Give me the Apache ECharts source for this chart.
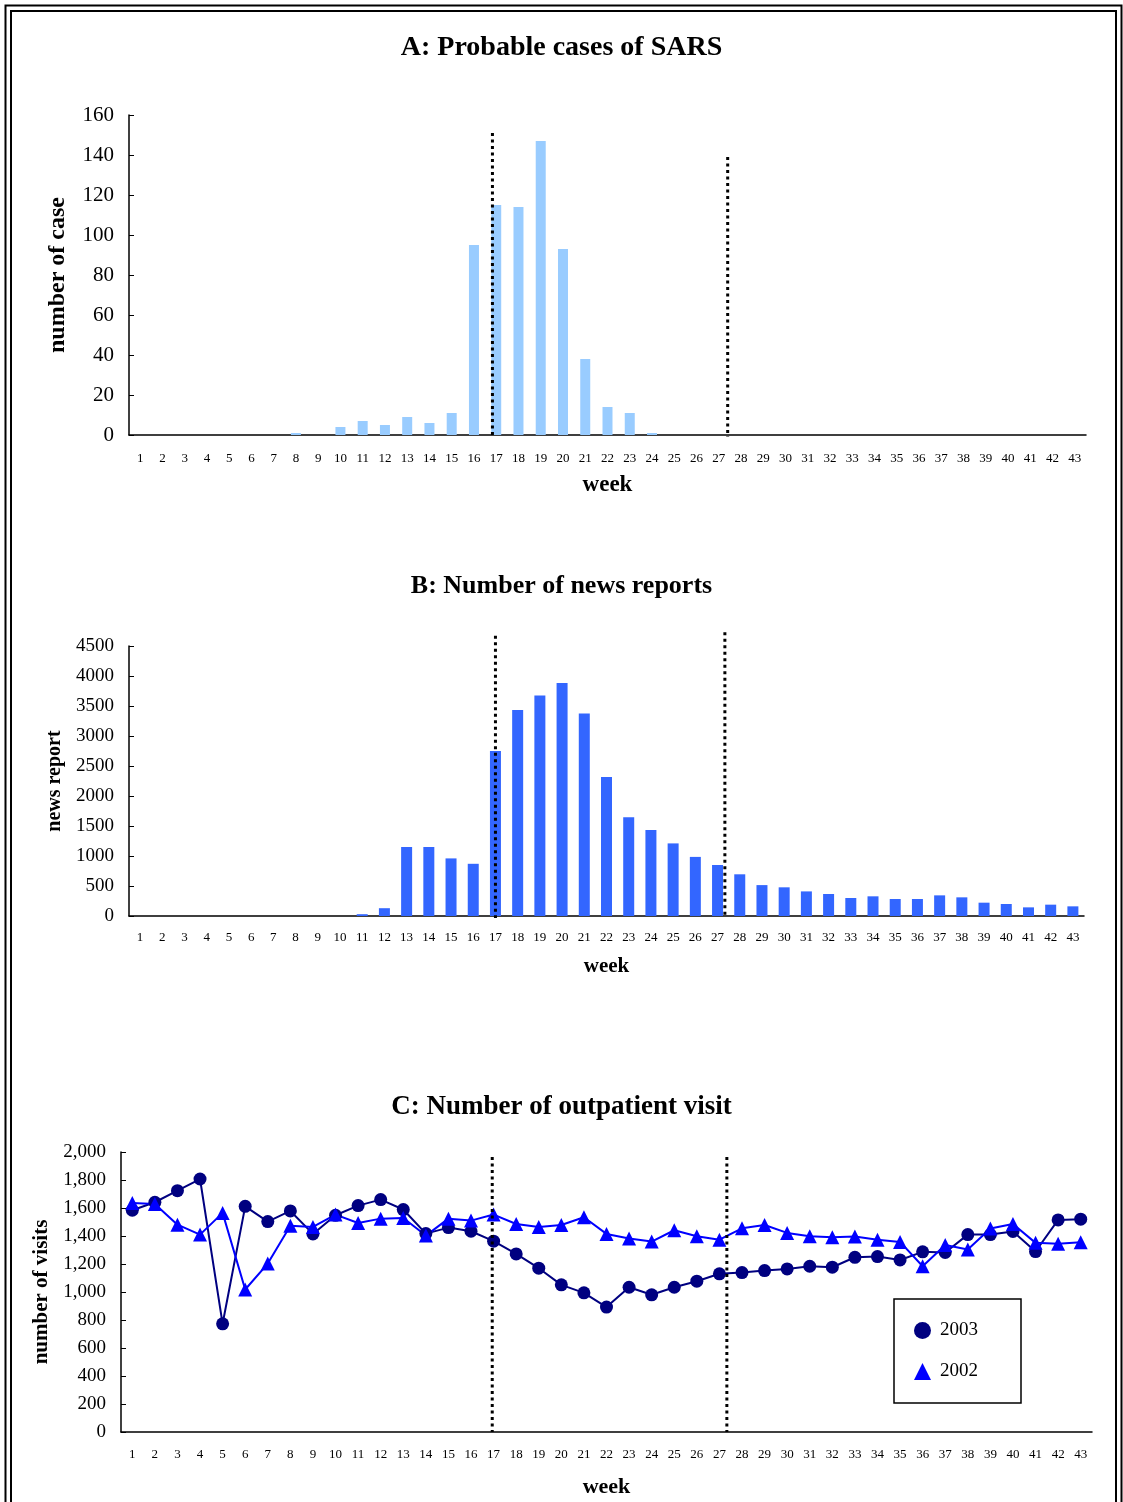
<!DOCTYPE html>
<html>
<head>
<meta charset="utf-8">
<script src="https://cdn.jsdelivr.net/npm/echarts@6/dist/echarts.min.js"></script>
<style>
  html, body { margin: 0; padding: 0; background: #fff; }
  #main { width: 1123px; height: 1502px; }
</style>
</head>
<body>
<div id="main"></div>
<script>
var weeks = ['1','2','3','4','5','6','7','8','9','10','11','12','13','14','15','16','17','18','19','20','21','22',
  '23','24','25','26','27','28','29','30','31','32','33','34','35','36','37','38','39','40','41','42','43']

// A: probable SARS cases per week
var sarsCases = [0,0,0,0,0,0,0,1,0,4,7,5,9,6,11,95,115,114,147,93,38,14,
  11,1,0,0,0,0,0,0,0,0,0,0,0,0,0,0,0,0,0,0,0]

// B: news reports per week
var newsReports = [0,0,0,0,0,0,0,0,0,0,30,130,1150,1150,960,870,2750,3435,3675,3885,3375,2315,
  1645,1435,1210,985,850,695,515,478,410,367,300,328,283,283,344,311,222,200,144,189,161]

// C: outpatient visits
var visits2003 = [1584,1641,1724,1807,773,1612,1503,1579,1415,1548,1617,1660,1589,1417,1460,1434,1363,1272,1170,1051,994,892,
  1034,980,1034,1077,1130,1139,1153,1165,1184,1177,1248,1253,1229,1287,1282,1410,1410,1432,1289,1515,1520]
var visits2002 = [1636,1629,1481,1410,1565,1018,1203,1474,1465,1553,1493,1524,1529,1403,1524,1510,1553,1486,1465,1479,1534,1415,
  1382,1360,1441,1398,1374,1455,1479,1422,1398,1391,1396,1374,1358,1184,1336,1303,1453,1486,1351,1344,1355]

// dotted reference lines: [week position, top value, bottom value]
var refLinesA = [[16.83, 151, 0], [27.4, 139, -1]]
var refLinesB = [[17.0, 4670, -35], [27.33, 4730, 0]]
var refLinesC = [[16.94, 1964, 0], [27.33, 1964, 0]]

var serif = 'Liberation Serif'

var chartDom = document.getElementById('main')
var myChart = echarts.init(chartDom)

function catAxis(grid, nameSize, nameGap, labelMargin) {
  return {
    type: 'category',
    gridIndex: grid,
    data: weeks,
    name: 'week',
    nameLocation: 'middle',
    nameGap: nameGap,
    nameTextStyle: { fontFamily: serif, fontWeight: 'bold', fontSize: nameSize, color: '#000' },
    axisLine: { lineStyle: { color: '#000', width: 1.5 } },
    axisTick: { inside: true, length: 5, lineStyle: { color: '#000' } },
    axisLabel: { interval: 0, fontFamily: serif, fontSize: 13, color: '#000', margin: labelMargin },
    splitLine: { show: false }
  }
}

function hiddenAxis(grid) {
  return {
    type: 'value', gridIndex: grid, min: 0.5, max: 43.5, show: false,
    splitLine: { show: false }
  }
}

function valAxis(grid, max, interval, name, nameSize, nameGap, labelSize, fmt) {
  return {
    type: 'value',
    gridIndex: grid,
    min: 0, max: max, interval: interval,
    name: name,
    nameLocation: 'middle',
    nameGap: nameGap,
    nameTextStyle: { fontFamily: serif, fontWeight: 'bold', fontSize: nameSize, color: '#000' },
    axisLine: { show: true, lineStyle: { color: '#000', width: 1.5 } },
    axisTick: { show: true, inside: true, length: 5, lineStyle: { color: '#000' } },
    axisLabel: { fontFamily: serif, fontSize: labelSize, color: '#000', margin: 15, formatter: fmt },
    splitLine: { show: false }
  }
}

function plain(v) { return String(v) }

// each dotted line is a tiny line series on the hidden value x axis
function refSeries(xIdx, yIdx, lines) {
  return lines.map(function (l) {
    return {
      type: 'line',
      xAxisIndex: xIdx,
      yAxisIndex: yIdx,
      data: [[l[0], l[1]], [l[0], l[2]]],
      symbol: 'none',
      silent: true,
      clip: false,
      z: 5,
      lineStyle: { color: '#000', width: 3, type: [3, 3.5] }
    }
  })
}

var option = {
  animation: false,
  backgroundColor: '#fff',
  textStyle: { fontFamily: serif },
  title: [
    { text: 'A: Probable cases of SARS', left: 'center', top: 29,
      textStyle: { fontFamily: serif, fontSize: 28, fontWeight: 'bold', color: '#000' } },
    { text: 'B: Number of news reports', left: 'center', top: 568,
      textStyle: { fontFamily: serif, fontSize: 26, fontWeight: 'bold', color: '#000' } },
    { text: 'C: Number of outpatient visit', left: 'center', top: 1089,
      textStyle: { fontFamily: serif, fontSize: 27, fontWeight: 'bold', color: '#000' } }
  ],
  graphic: [
    { type: 'rect', shape: { x: 5.5, y: 5.5, width: 1116, height: 1520 },
      style: { fill: 'none', stroke: '#000', lineWidth: 2 }, silent: true },
    { type: 'rect', shape: { x: 11, y: 11, width: 1105, height: 1520 },
      style: { fill: 'none', stroke: '#000', lineWidth: 2 }, silent: true }
  ],
  legend: {
    orient: 'vertical',
    left: 894,
    top: 1299,
    padding: [22, 43, 22, 20],
    itemGap: 22,
    itemWidth: 17,
    itemHeight: 17,
    borderColor: '#000',
    borderWidth: 1.5,
    textStyle: { fontFamily: serif, fontSize: 19, color: '#000', padding: [0, 0, 0, 4] },
    data: [
      { name: '2003', icon: 'circle' },
      { name: '2002', icon: 'triangle' }
    ]
  },
  grid: [
    { left: 129, right: 37, top: 115, height: 320 },
    { left: 129, right: 39, top: 646, height: 270 },
    { left: 121, right: 31, top: 1152, height: 280 }
  ],
  xAxis: [
    catAxis(0, 23, 39, 17),
    catAxis(1, 21, 40, 15),
    catAxis(2, 22, 44, 16),
    hiddenAxis(0),
    hiddenAxis(1),
    hiddenAxis(2)
  ],
  yAxis: [
    valAxis(0, 160, 20, 'number of case', 24, 59, 21, plain),
    valAxis(1, 4500, 500, 'news report', 20, 62, 19, plain),
    valAxis(2, 2000, 200, 'number of visits', 21, 69, 19, function (v) {
      return v.toLocaleString('en-US')
    })
  ],
  series: [
    {
      name: 'cases', type: 'bar', xAxisIndex: 0, yAxisIndex: 0,
      data: sarsCases, barWidth: 10,
      itemStyle: { color: '#99ccff' }
    },
    {
      name: 'news', type: 'bar', xAxisIndex: 1, yAxisIndex: 1,
      data: newsReports, barWidth: 11,
      itemStyle: { color: '#3366ff' }
    },
    {
      name: '2003', type: 'line', xAxisIndex: 2, yAxisIndex: 2,
      data: visits2003,
      symbol: 'circle', symbolSize: 13,
      lineStyle: { color: '#000080', width: 2 },
      itemStyle: { color: '#000080' }
    },
    {
      name: '2002', type: 'line', xAxisIndex: 2, yAxisIndex: 2,
      data: visits2002,
      symbol: 'triangle', symbolSize: 14,
      lineStyle: { color: '#0000ff', width: 2 },
      itemStyle: { color: '#0000ff' }
    }
  ].concat(refSeries(3, 0, refLinesA), refSeries(4, 1, refLinesB), refSeries(5, 2, refLinesC))
}

option && myChart.setOption(option)
</script>
</body>
</html>
